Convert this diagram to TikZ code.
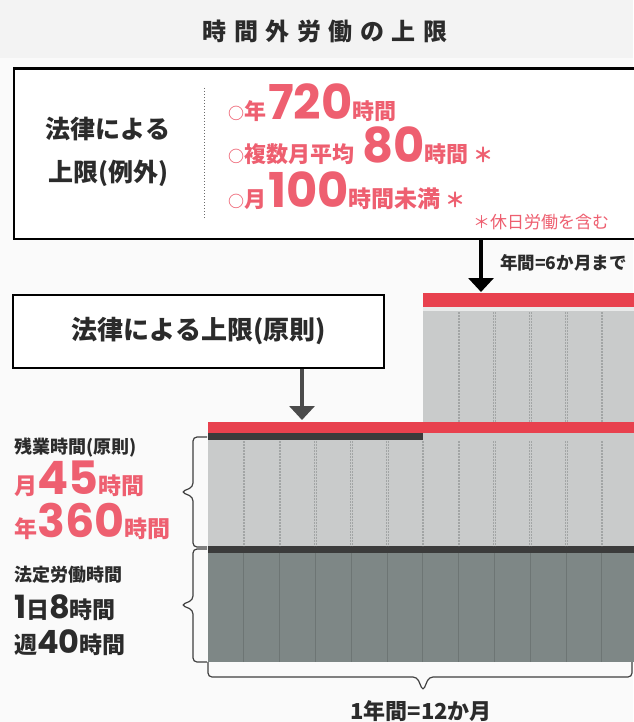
\documentclass[tikz,border=0pt]{standalone}
\usepackage{fontspec}
\newfontfamily\jp{Noto Sans CJK JP}
\newfontfamily\num{Poppins}
\usetikzlibrary{arrows.meta}
\definecolor{txtred}{HTML}{EE5F70}
\definecolor{barred}{HTML}{E8414E}
\definecolor{lightg}{HTML}{C9CBCB}
\definecolor{darkg}{HTML}{7E8786}
\definecolor{bandc}{HTML}{3B3B3B}
\definecolor{ink}{HTML}{2B2B2B}
\definecolor{bgtop}{HTML}{F3F3F3}
\definecolor{bgmain}{HTML}{FAFAFA}
\definecolor{vlinel}{HTML}{A2A5A5}
\definecolor{vlined}{HTML}{6D7574}
\newcommand\jfs[1]{\fontsize{#1}{#1}\selectfont}
\tikzset{
  txt/.style={inner sep=0pt, text=ink, font=\jp\bfseries},
  redtxt/.style={inner sep=0pt, text=txtred, font=\jp\bfseries},
  boxframe/.style={draw=black, line width=2.2pt, fill=white, inner sep=0pt, anchor=north west},
  bigarrow/.style={line width=3.5pt, -{Triangle[width=25pt,length=14pt]}},
  bracestyle/.style={draw=ink!90, line width=1.2pt, rounded corners=4pt},
  vlight/.style={draw=vlinel, line width=0.6pt, dash pattern=on 2pt off 1pt},
  vdark/.style={draw=vlined, line width=0.7pt}
}
\begin{document}
\begin{tikzpicture}[x=1pt,y=-1pt]
\useasboundingbox (0,0) rectangle (633,722);
\fill[bgmain] (0,0) rectangle (633,722);
\fill[bgtop] (0,0) rectangle (633,58);

% title
\node[txt, anchor=base] (title) at (325,41) {\jfs{24}時\hspace{7.5pt}間\hspace{7.5pt}外\hspace{7.5pt}労\hspace{7.5pt}働\hspace{7.5pt}の\hspace{7.5pt}上\hspace{7.5pt}限};

% top box (exception)
\node[boxframe, minimum width=640pt, minimum height=170.5pt] (exbox) at (12.5,67.5) {};
\draw[ink!70, line width=1pt, dotted] (204,88) -- (204,218);
\node[txt, anchor=base] (l1) at (108,139) {\jfs{25}法律による};
\node[txt, anchor=base] (l2) at (108,182) {\jfs{25}上限(例外)};
\node[redtxt, anchor=base west] (r1) at (228,120) {{\jfs{16}○}{\jfs{22}年}\hspace{2pt}{\num\bfseries\jfs{48}720}{\jfs{22}時間}};
\node[redtxt, anchor=base west] (r2) at (228,163) {{\jfs{16}○}{\jfs{22}複数月平均}\hspace{8pt}{\num\bfseries\jfs{48}80}{\jfs{22}時間}\hspace{5pt}{\jfs{20}＊}};
\node[redtxt, anchor=base west] (r3) at (228,207) {{\jfs{16}○}{\jfs{22}月}\hspace{2pt}{\num\bfseries\jfs{48}100}{\jfs{23}時間未満}\hspace{5pt}{\jfs{20}＊}};
\node[inner sep=0pt, text=txtred, font=\jp, anchor=base west] (note) at (473,228) {\jfs{17}＊休日労働を含む};

% chart
\fill[lightg] (423,293) rectangle (640,422);
\fill[lightg] (208,432) rectangle (640,548);
\fill[white!60!lightg] (423,307) rectangle (640,311);
\node[fill=barred, inner sep=0pt, minimum width=217pt, minimum height=14pt, anchor=north west] (peak) at (423,293) {};
\node[fill=barred, inner sep=0pt, minimum width=432pt, minimum height=11pt, anchor=north west] (redlow) at (208,422) {};
\fill[bandc] (208,433) rectangle (423,440);
\fill[bandc] (208,546) rectangle (640,553);
\fill[darkg] (208,553) rectangle (640,662);
\foreach \i in {1,...,11}{
  \pgfmathsetmacro\xx{208+35.8*\i}
  \draw[vlight] (\xx-0.8,441) -- (\xx-0.8,546);
  \draw[vlight] (\xx+0.8,441) -- (\xx+0.8,546);
  \draw[vdark] (\xx,553) -- (\xx,662);
}
\foreach \i in {7,...,11}{
  \pgfmathsetmacro\xx{208+35.8*\i}
  \draw[vlight] (\xx-0.8,312) -- (\xx-0.8,422);
  \draw[vlight] (\xx+0.8,312) -- (\xx+0.8,422);
}

% principle box
\node[boxframe, minimum width=371pt, minimum height=73pt] (prbox) at (12,294) {};
\node[txt, anchor=base] (prtext) at (199,339.5) {\jfs{26}法律による上限(原則)};

% arrows
\coordinate (a1e) at (481,292);
\draw[bigarrow, black] (exbox.south -| a1e) -- (a1e);
\node[txt, anchor=base west] (sixm) at (500,269) {\jfs{17.5}年間=6か月まで};
\coordinate (a2e) at (302,420);
\draw[bigarrow, ink!85] (prbox.south -| a2e) -- (a2e);

% left labels
\node[txt, anchor=base west] (ot1) at (14,453) {\jfs{18}残業時間(原則)};
\node[redtxt, anchor=base west] (ot2) at (14,494) {{\jfs{23}月}{\num\bfseries\jfs{46}45}{\jfs{23}時間}};
\node[redtxt, anchor=base west] (ot3) at (14,537) {{\jfs{23}年}{\num\bfseries\jfs{46}360}{\jfs{23}時間}};
\node[txt, anchor=base west] (lg1) at (14,581) {\jfs{18}法定労働時間};
\node[txt, anchor=base west] (lg2) at (14,618) {{\num\bfseries\jfs{32}1}{\jfs{23}日}{\num\bfseries\jfs{32}8}{\jfs{23}時間}};
\node[txt, anchor=base west] (lg3) at (14,653) {{\jfs{23}週}{\num\bfseries\jfs{32}40}{\jfs{23}時間}};

% braces
\draw[bracestyle] (207,437) -- (193,437) -- (193,487) -- (181,492) -- (193,497) -- (193,547) -- (207,547);
\draw[bracestyle] (207,549) -- (193,549) -- (193,600) -- (181,605) -- (193,610) -- (193,662) -- (207,662);
\draw[bracestyle] (208,662) -- (208,677) -- (417,677) -- (423,691) -- (429,677) -- (632,677) -- (632,662);
\node[txt, anchor=base] (year) at (421,719) {\jfs{22}1年間=12か月};
\end{tikzpicture}
\end{document}
